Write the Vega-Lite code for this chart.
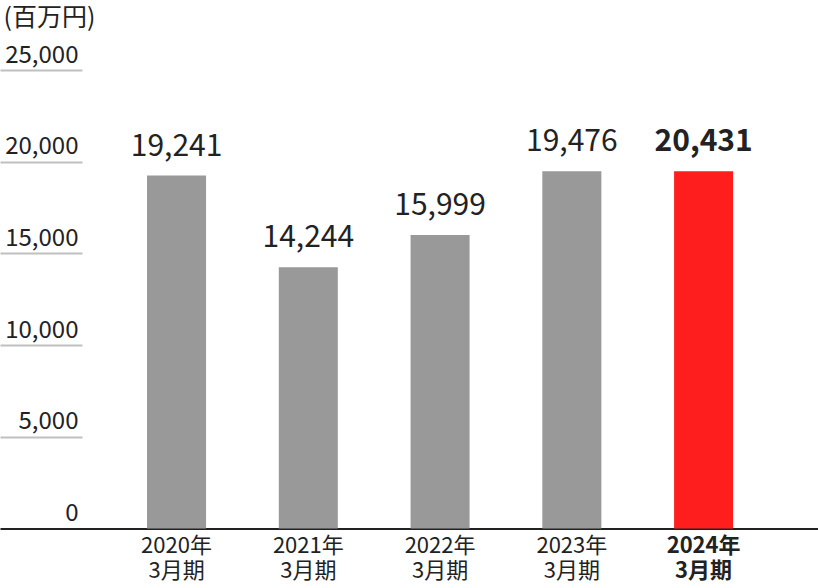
{
  "$schema": "https://vega.github.io/schema/vega-lite/v6.json",
  "autosize": "none",
  "width": 818,
  "height": 458.5,
  "padding": {"top": 70, "left": 0, "right": 0, "bottom": 60},
  "background": "white",
  "config": {
    "view": {"stroke": null},
    "font": "Noto Sans CJK JP",
    "axis": {"labelFont": "Noto Sans CJK JP", "titleFont": "Noto Sans CJK JP"}
  },
  "data": {
    "values": [
      {"year": "2020年3月期", "value": 19241, "label": "19,241"},
      {"year": "2021年3月期", "value": 14244, "label": "14,244"},
      {"year": "2022年3月期", "value": 15999, "label": "15,999"},
      {"year": "2023年3月期", "value": 19476, "label": "19,476"},
      {"year": "2024年3月期", "value": 19476, "label": "20,431"}
    ]
  },
  "encoding": {
    "x": {
      "field": "year",
      "type": "nominal",
      "sort": null,
      "scale": {"paddingInner": 0.552, "paddingOuter": 0.88, "align": 0.634},
      "axis": {
        "title": null,
        "domainColor": "#222222",
        "domainWidth": 2,
        "ticks": false,
        "labelAngle": 0,
        "labelFontSize": 22,
        "labelColor": "#222222",
        "labelPadding": 7,
        "labelLineHeight": 25,
        "labelBaseline": "top",
        "labelExpr": "[slice(datum.label, 0, 5), slice(datum.label, 5)]",
        "labelFontWeight": {"condition": {"test": "datum.value === '2024年3月期'", "value": "bold"}, "value": "normal"}
      }
    },
    "y": {
      "field": "value",
      "type": "quantitative",
      "scale": {"domain": [0, 25000], "nice": false},
      "axis": {
        "title": "(百万円)",
        "titleAngle": 0,
        "titleX": 3,
        "titleY": -45,
        "titleAlign": "left",
        "titleBaseline": "alphabetic",
        "titleFontSize": 25,
        "titleFontWeight": "normal",
        "titleColor": "#222222",
        "values": [0, 5000, 10000, 15000, 20000, 25000],
        "format": ",d",
        "grid": false,
        "domain": false,
        "tickSize": -82,
        "tickWidth": 2,
        "tickColor": {"condition": {"test": "datum.value === 0", "value": "transparent"}, "value": "#c0c0c0"},
        "labelFontSize": 24,
        "labelColor": "#222222",
        "labelAlign": "right",
        "labelBaseline": "alphabetic",
        "labelOffset": -8,
        "labelPadding": 4
      }
    }
  },
  "layer": [
    {
      "mark": {"type": "bar"},
      "encoding": {
        "color": {
          "field": "year",
          "type": "nominal",
          "scale": {
            "domain": ["2020年3月期", "2021年3月期", "2022年3月期", "2023年3月期", "2024年3月期"],
            "range": ["#999999", "#999999", "#999999", "#999999", "#ff1e1e"]
          },
          "legend": null
        }
      }
    },
    {
      "transform": [{"filter": "datum.year !== '2024年3月期'"}],
      "mark": {"type": "text", "baseline": "alphabetic", "dy": -20, "fontSize": 30, "color": "#222222"},
      "encoding": {"text": {"field": "label"}}
    },
    {
      "transform": [{"filter": "datum.year === '2024年3月期'"}],
      "mark": {"type": "text", "baseline": "alphabetic", "dy": -20, "fontSize": 30, "fontWeight": "bold", "color": "#222222"},
      "encoding": {"text": {"field": "label"}}
    }
  ]
}
